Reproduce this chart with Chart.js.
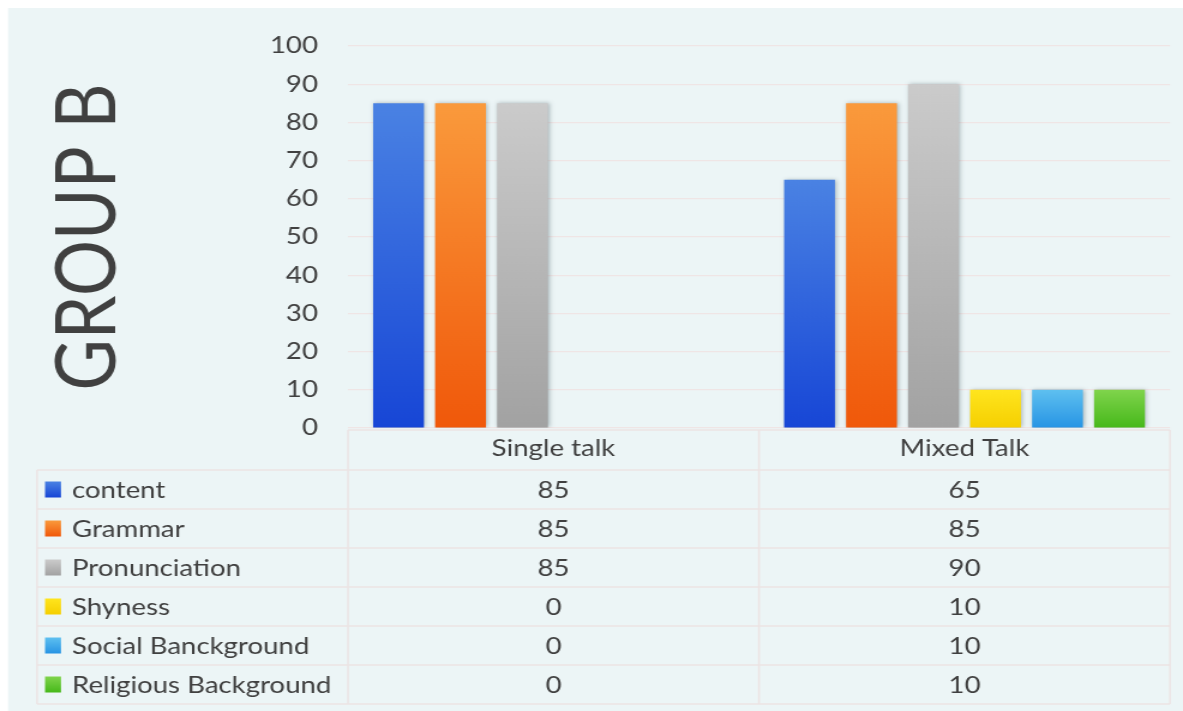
<!DOCTYPE html>
<html>
<head>
<meta charset="utf-8">
<script src="https://cdn.jsdelivr.net/npm/chart.js@4.4.1/dist/chart.umd.min.js"></script>
<style>
  html, body { margin: 0; padding: 0; background: #ffffff; overflow: hidden; }
  #wrap { position: relative; width: 1183px; height: 711px; }
  #c { display: block; width: 1183px; height: 711px; }
</style>
</head>
<body>
<div id="wrap"><canvas id="c" width="986" height="711" style="width:1183px;height:711px"></canvas></div>
<script>
const categories = ['Single talk', 'Mixed Talk'];
const seriesNames = ['content', 'Grammar', 'Pronunciation', 'Shyness', 'Social Banckground', 'Religious Background'];
const content = [85, 65];
const grammar = [85, 85];
const pronunciation = [85, 90];
const shyness = [0, 10];
const socialBackground = [0, 10];
const religiousBackground = [0, 10];
const yTicks = [0, 10, 20, 30, 40, 50, 60, 70, 80, 90, 100];
const axisTitle = 'GROUP B';

const seriesValues = [content, grammar, pronunciation, shyness, socialBackground, religiousBackground];
const colorStops = [
  ['#4a82e3', '#1746d6'],
  ['#fa9a3c', '#f0580a'],
  ['#cbcbcb', '#a2a2a2'],
  ['#ffe51e', '#f5cf00'],
  ['#5ec0f0', '#2794e4'],
  ['#80d44c', '#46b81a']
];
const FONT = 'Lato, "Open Sans", sans-serif';
const TEXT = '#404040';
const LINE = '#ece4e4';
const SX = 1183 / 986; // horizontal stretch of the displayed canvas

function grad(ctx, stops, top, bottom) {
  const g = ctx.createLinearGradient(0, top, 0, bottom);
  g.addColorStop(0, stops[0]);
  g.addColorStop(1, stops[1]);
  return g;
}

const bgPlugin = {
  id: 'bg',
  beforeDraw(chart) {
    const ctx = chart.ctx;
    ctx.save();
    ctx.fillStyle = '#ecf5f6';
    ctx.fillRect(8 / SX, 8, chart.width, chart.height);
    ctx.restore();
  }
};

const shadowPlugin = {
  id: 'shadow',
  beforeDatasetsDraw(chart) {
    const ctx = chart.ctx;
    ctx.save();
    ctx.shadowColor = 'rgba(40,60,70,0.35)';
    ctx.shadowBlur = 4;
    ctx.shadowOffsetX = 1;
    ctx.shadowOffsetY = 0;
  },
  afterDatasetsDraw(chart) {
    chart.ctx.restore();
  }
};

const tablePlugin = {
  id: 'dataTable',
  afterDraw(chart) {
    const ctx = chart.ctx;
    const area = chart.chartArea;
    const xs = chart.scales.x;
    const left = area.left, right = area.right;
    const mid = (xs.getPixelForValue(0) + xs.getPixelForValue(1)) / 2;
    const tableLeft = 37 / SX;
    const headTop = area.bottom + 2;
    const rowsTop = 470;
    const rowH = 39;
    const n = seriesNames.length;
    const bottom = rowsTop + n * rowH;
    ctx.save();
    ctx.strokeStyle = LINE;
    ctx.lineWidth = 1.5;
    ctx.beginPath();
    ctx.moveTo(left, headTop); ctx.lineTo(right, headTop);
    for (let i = 0; i <= n; i++) {
      const y = rowsTop + i * rowH;
      ctx.moveTo(tableLeft, y); ctx.lineTo(right, y);
    }
    ctx.moveTo(tableLeft, rowsTop); ctx.lineTo(tableLeft, bottom);
    [left, mid, right].forEach(x => { ctx.moveTo(x, headTop); ctx.lineTo(x, bottom); });
    ctx.stroke();

    ctx.font = '23px ' + FONT;
    ctx.textBaseline = 'middle';
    for (let i = 0; i < n; i++) {
      const cy = rowsTop + i * rowH + rowH / 2;
      ctx.fillStyle = grad(ctx, colorStops[i], cy - 8, cy + 8);
      ctx.fillRect(45 / SX, cy - 8, 16 / SX, 16);
      ctx.fillStyle = TEXT;
      ctx.textAlign = 'left';
      ctx.fillText(seriesNames[i], 72 / SX, cy + 1);
      ctx.textAlign = 'center';
      seriesValues[i].forEach((v, j) => {
        ctx.fillText(String(v), xs.getPixelForValue(j), cy + 1);
      });
    }
    ctx.restore();
  }
};

const datasets = seriesNames.map((name, i) => ({
  label: name,
  data: seriesValues[i],
  backgroundColor: (c) => {
    const a = c.chart.chartArea;
    if (!a) return colorStops[i][1];
    const y0 = c.chart.scales.y.getPixelForValue(c.raw || 0);
    return grad(c.chart.ctx, colorStops[i], y0, a.bottom);
  },
  borderWidth: 0,
  categoryPercentage: 0.905,
  barPercentage: 0.82
}));

const padLeft = 88 / SX - 35;
new Chart(document.getElementById('c'), {
  type: 'bar',
  data: { labels: categories, datasets },
  options: {
    responsive: false,
    animation: false,
    devicePixelRatio: 1,
    layout: { padding: { left: padLeft, right: 986 - 1170 / SX, top: 46, bottom: 0 } },
    plugins: {
      legend: { display: false },
      tooltip: { enabled: false }
    },
    scales: {
      x: {
        grid: { display: false, drawTicks: false },
        border: { display: false },
        ticks: { color: TEXT, font: { family: FONT, size: 23 }, padding: 7 },
        afterFit: (s) => { s.height = 283; }
      },
      y: {
        min: 0, max: 100,
        afterBuildTicks: (s) => { s.ticks = yTicks.map(v => ({ value: v })); },
        grid: { color: '#efe5e5', lineWidth: 1.2, drawTicks: false },
        border: { display: false },
        ticks: { color: TEXT, font: { family: FONT, size: 23 }, padding: 30 / SX },
        title: {
          display: true, text: axisTitle, color: TEXT,
          font: { family: FONT, size: 70, lineHeight: 1 },
          padding: 0
        },
        afterFit: (s) => { s.width = 348 / SX - padLeft; }
      }
    }
  },
  plugins: [bgPlugin, shadowPlugin, tablePlugin]
});
</script>
</body>
</html>
